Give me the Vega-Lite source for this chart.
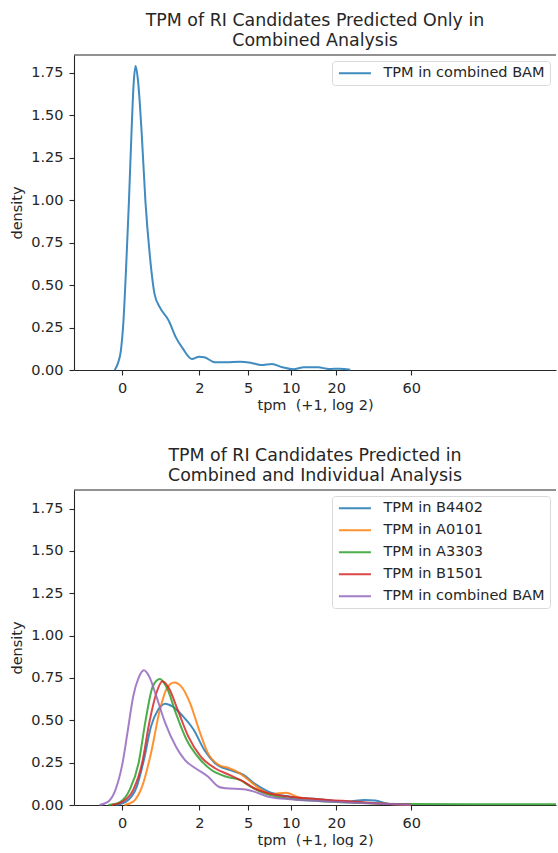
{
  "$schema": "https://vega.github.io/schema/vega-lite/v6.json",
  "padding": {"left": 9, "top": 11, "right": 0, "bottom": 0},
  "spacing": 34,
  "config": {
    "font": "DejaVu Sans",
    "view": {"stroke": null},
    "axis": {
      "domainColor": "#262626", "tickColor": "#262626", "labelColor": "#262626", "titleColor": "#262626",
      "labelFontSize": 14.5, "titleFontSize": 14.5, "titleFontWeight": "normal",
      "tickSize": 5, "labelPadding": 6, "grid": false, "domainWidth": 1.1, "tickWidth": 1.1
    },
    "axisY": {"titlePadding": 6},
    "axisX": {"titlePadding": 4},
    "title": {"fontSize": 17.4, "fontWeight": "normal", "color": "#262626", "lineHeight": 20.5, "frame": "group", "anchor": "middle", "offset": 5},
    "legend": {"labelFontSize": 14.5, "labelColor": "#262626", "labelFont": "DejaVu Sans", "labelLimit": 400}
  },
  "datasets": {
    "top": [
      {"x": -0.15, "y": 0, "series": "TPM in combined BAM"},
      {"x": -0.077, "y": 0.045, "series": "TPM in combined BAM"},
      {"x": -0.025, "y": 0.11, "series": "TPM in combined BAM"},
      {"x": 0.026, "y": 0.27, "series": "TPM in combined BAM"},
      {"x": 0.084, "y": 0.6, "series": "TPM in combined BAM"},
      {"x": 0.142, "y": 0.99, "series": "TPM in combined BAM"},
      {"x": 0.194, "y": 1.39, "series": "TPM in combined BAM"},
      {"x": 0.24, "y": 1.69, "series": "TPM in combined BAM"},
      {"x": 0.28, "y": 1.79, "series": "TPM in combined BAM"},
      {"x": 0.33, "y": 1.70, "series": "TPM in combined BAM"},
      {"x": 0.405, "y": 1.39, "series": "TPM in combined BAM"},
      {"x": 0.48, "y": 0.996, "series": "TPM in combined BAM"},
      {"x": 0.575, "y": 0.663, "series": "TPM in combined BAM"},
      {"x": 0.668, "y": 0.447, "series": "TPM in combined BAM"},
      {"x": 0.777, "y": 0.369, "series": "TPM in combined BAM"},
      {"x": 0.96, "y": 0.29, "series": "TPM in combined BAM"},
      {"x": 1.105, "y": 0.192, "series": "TPM in combined BAM"},
      {"x": 1.252, "y": 0.124, "series": "TPM in combined BAM"},
      {"x": 1.435, "y": 0.065, "series": "TPM in combined BAM"},
      {"x": 1.58, "y": 0.078, "series": "TPM in combined BAM"},
      {"x": 1.689, "y": 0.075, "series": "TPM in combined BAM"},
      {"x": 1.908, "y": 0.045, "series": "TPM in combined BAM"},
      {"x": 2.127, "y": 0.045, "series": "TPM in combined BAM"},
      {"x": 2.419, "y": 0.049, "series": "TPM in combined BAM"},
      {"x": 2.638, "y": 0.043, "series": "TPM in combined BAM"},
      {"x": 2.857, "y": 0.029, "series": "TPM in combined BAM"},
      {"x": 3.075, "y": 0.035, "series": "TPM in combined BAM"},
      {"x": 3.294, "y": 0.016, "series": "TPM in combined BAM"},
      {"x": 3.513, "y": 0.004, "series": "TPM in combined BAM"},
      {"x": 3.732, "y": 0.016, "series": "TPM in combined BAM"},
      {"x": 4.024, "y": 0.016, "series": "TPM in combined BAM"},
      {"x": 4.243, "y": 0.006, "series": "TPM in combined BAM"},
      {"x": 4.461, "y": 0.008, "series": "TPM in combined BAM"},
      {"x": 4.68, "y": 0.002, "series": "TPM in combined BAM"}
    ],
    "bottom": [
      {"x": -0.134, "y": 0, "series": "TPM in B4402"},
      {"x": 0.084, "y": 0.02, "series": "TPM in B4402"},
      {"x": 0.303, "y": 0.108, "series": "TPM in B4402"},
      {"x": 0.449, "y": 0.266, "series": "TPM in B4402"},
      {"x": 0.595, "y": 0.463, "series": "TPM in B4402"},
      {"x": 0.741, "y": 0.562, "series": "TPM in B4402"},
      {"x": 0.888, "y": 0.598, "series": "TPM in B4402"},
      {"x": 1.033, "y": 0.582, "series": "TPM in B4402"},
      {"x": 1.252, "y": 0.523, "series": "TPM in B4402"},
      {"x": 1.47, "y": 0.444, "series": "TPM in B4402"},
      {"x": 1.689, "y": 0.325, "series": "TPM in B4402"},
      {"x": 1.908, "y": 0.247, "series": "TPM in B4402"},
      {"x": 2.2, "y": 0.207, "series": "TPM in B4402"},
      {"x": 2.492, "y": 0.178, "series": "TPM in B4402"},
      {"x": 2.711, "y": 0.128, "series": "TPM in B4402"},
      {"x": 3.003, "y": 0.079, "series": "TPM in B4402"},
      {"x": 3.44, "y": 0.049, "series": "TPM in B4402"},
      {"x": 4.024, "y": 0.034, "series": "TPM in B4402"},
      {"x": 4.608, "y": 0.02, "series": "TPM in B4402"},
      {"x": 4.972, "y": 0.03, "series": "TPM in B4402"},
      {"x": 5.191, "y": 0.026, "series": "TPM in B4402"},
      {"x": 5.484, "y": 0.006, "series": "TPM in B4402"},
      {"x": 5.922, "y": 0.002, "series": "TPM in B4402"},
      {"x": 0.048, "y": 0, "series": "TPM in A0101"},
      {"x": 0.23, "y": 0.02, "series": "TPM in A0101"},
      {"x": 0.412, "y": 0.108, "series": "TPM in A0101"},
      {"x": 0.595, "y": 0.306, "series": "TPM in A0101"},
      {"x": 0.777, "y": 0.562, "series": "TPM in A0101"},
      {"x": 0.923, "y": 0.69, "series": "TPM in A0101"},
      {"x": 1.069, "y": 0.724, "series": "TPM in A0101"},
      {"x": 1.215, "y": 0.7, "series": "TPM in A0101"},
      {"x": 1.398, "y": 0.6, "series": "TPM in A0101"},
      {"x": 1.58, "y": 0.444, "series": "TPM in A0101"},
      {"x": 1.763, "y": 0.306, "series": "TPM in A0101"},
      {"x": 1.981, "y": 0.237, "series": "TPM in A0101"},
      {"x": 2.2, "y": 0.217, "series": "TPM in A0101"},
      {"x": 2.419, "y": 0.187, "series": "TPM in A0101"},
      {"x": 2.638, "y": 0.138, "series": "TPM in A0101"},
      {"x": 2.857, "y": 0.089, "series": "TPM in A0101"},
      {"x": 3.075, "y": 0.065, "series": "TPM in A0101"},
      {"x": 3.368, "y": 0.073, "series": "TPM in A0101"},
      {"x": 3.586, "y": 0.049, "series": "TPM in A0101"},
      {"x": 4.024, "y": 0.03, "series": "TPM in A0101"},
      {"x": 4.754, "y": 0.016, "series": "TPM in A0101"},
      {"x": 5.484, "y": 0.006, "series": "TPM in A0101"},
      {"x": 5.922, "y": 0.002, "series": "TPM in A0101"},
      {"x": -0.281, "y": 0, "series": "TPM in A3303"},
      {"x": -0.062, "y": 0.014, "series": "TPM in A3303"},
      {"x": 0.157, "y": 0.089, "series": "TPM in A3303"},
      {"x": 0.34, "y": 0.247, "series": "TPM in A3303"},
      {"x": 0.486, "y": 0.503, "series": "TPM in A3303"},
      {"x": 0.631, "y": 0.7, "series": "TPM in A3303"},
      {"x": 0.777, "y": 0.744, "series": "TPM in A3303"},
      {"x": 0.923, "y": 0.69, "series": "TPM in A3303"},
      {"x": 1.105, "y": 0.542, "series": "TPM in A3303"},
      {"x": 1.325, "y": 0.385, "series": "TPM in A3303"},
      {"x": 1.58, "y": 0.276, "series": "TPM in A3303"},
      {"x": 1.835, "y": 0.207, "series": "TPM in A3303"},
      {"x": 2.127, "y": 0.168, "series": "TPM in A3303"},
      {"x": 2.419, "y": 0.148, "series": "TPM in A3303"},
      {"x": 2.638, "y": 0.108, "series": "TPM in A3303"},
      {"x": 2.93, "y": 0.069, "series": "TPM in A3303"},
      {"x": 3.294, "y": 0.043, "series": "TPM in A3303"},
      {"x": 4.024, "y": 0.024, "series": "TPM in A3303"},
      {"x": 4.754, "y": 0.014, "series": "TPM in A3303"},
      {"x": 5.922, "y": 0.006, "series": "TPM in A3303"},
      {"x": 7.4, "y": 0.005, "series": "TPM in A3303"},
      {"x": 8.9, "y": 0.005, "series": "TPM in A3303"},
      {"x": -0.208, "y": 0, "series": "TPM in B1501"},
      {"x": 0.011, "y": 0.02, "series": "TPM in B1501"},
      {"x": 0.23, "y": 0.089, "series": "TPM in B1501"},
      {"x": 0.412, "y": 0.247, "series": "TPM in B1501"},
      {"x": 0.558, "y": 0.483, "series": "TPM in B1501"},
      {"x": 0.705, "y": 0.661, "series": "TPM in B1501"},
      {"x": 0.829, "y": 0.73, "series": "TPM in B1501"},
      {"x": 0.96, "y": 0.69, "series": "TPM in B1501"},
      {"x": 1.142, "y": 0.562, "series": "TPM in B1501"},
      {"x": 1.361, "y": 0.404, "series": "TPM in B1501"},
      {"x": 1.616, "y": 0.286, "series": "TPM in B1501"},
      {"x": 1.908, "y": 0.217, "series": "TPM in B1501"},
      {"x": 2.2, "y": 0.178, "series": "TPM in B1501"},
      {"x": 2.492, "y": 0.138, "series": "TPM in B1501"},
      {"x": 2.711, "y": 0.099, "series": "TPM in B1501"},
      {"x": 3.003, "y": 0.069, "series": "TPM in B1501"},
      {"x": 3.44, "y": 0.049, "series": "TPM in B1501"},
      {"x": 4.024, "y": 0.034, "series": "TPM in B1501"},
      {"x": 4.754, "y": 0.02, "series": "TPM in B1501"},
      {"x": 5.484, "y": 0.006, "series": "TPM in B1501"},
      {"x": 5.922, "y": 0.002, "series": "TPM in B1501"},
      {"x": -0.463, "y": 0, "series": "TPM in combined BAM"},
      {"x": -0.281, "y": 0.02, "series": "TPM in combined BAM"},
      {"x": -0.134, "y": 0.089, "series": "TPM in combined BAM"},
      {"x": 0.011, "y": 0.247, "series": "TPM in combined BAM"},
      {"x": 0.121, "y": 0.444, "series": "TPM in combined BAM"},
      {"x": 0.23, "y": 0.641, "series": "TPM in combined BAM"},
      {"x": 0.34, "y": 0.75, "series": "TPM in combined BAM"},
      {"x": 0.449, "y": 0.795, "series": "TPM in combined BAM"},
      {"x": 0.558, "y": 0.759, "series": "TPM in combined BAM"},
      {"x": 0.705, "y": 0.641, "series": "TPM in combined BAM"},
      {"x": 0.888, "y": 0.483, "series": "TPM in combined BAM"},
      {"x": 1.105, "y": 0.345, "series": "TPM in combined BAM"},
      {"x": 1.288, "y": 0.266, "series": "TPM in combined BAM"},
      {"x": 1.507, "y": 0.217, "series": "TPM in combined BAM"},
      {"x": 1.763, "y": 0.168, "series": "TPM in combined BAM"},
      {"x": 1.981, "y": 0.108, "series": "TPM in combined BAM"},
      {"x": 2.127, "y": 0.099, "series": "TPM in combined BAM"},
      {"x": 2.492, "y": 0.093, "series": "TPM in combined BAM"},
      {"x": 2.711, "y": 0.079, "series": "TPM in combined BAM"},
      {"x": 3.003, "y": 0.049, "series": "TPM in combined BAM"},
      {"x": 3.44, "y": 0.034, "series": "TPM in combined BAM"},
      {"x": 4.024, "y": 0.024, "series": "TPM in combined BAM"},
      {"x": 4.754, "y": 0.014, "series": "TPM in combined BAM"},
      {"x": 5.484, "y": 0.006, "series": "TPM in combined BAM"},
      {"x": 5.922, "y": 0.002, "series": "TPM in combined BAM"}
    ],
    "frame": [{"edge": "top"}]
  },
  "resolve": {
    "scale": {"x": "independent", "y": "independent", "color": "independent"},
    "legend": {"color": "independent"}
  },
  "vconcat": [
    {
      "width": 482, "height": 315,
      "title": {"text": ["TPM of RI Candidates Predicted Only in", "Combined Analysis"]},
      "layer": [
        {
          "data": {"name": "top"},
          "mark": {"type": "line", "strokeWidth": 2, "interpolate": "monotone", "opacity": 0.85},
          "encoding": {
            "x": {"field": "x", "type": "quantitative", "scale": {"domain": [-0.984, 8.9], "nice": false, "zero": false},
              "axis": {"values": [0, 1.58496, 2.58496, 3.45943, 4.39232, 5.93074], "labelExpr": "format(round(pow(2, datum.value) - 1), 'd')", "title": "tpm\u00a0 (+1, log 2)"}},
            "y": {"field": "y", "type": "quantitative", "scale": {"domain": [0, 1.855], "nice": false},
              "axis": {"values": [0, 0.25, 0.5, 0.75, 1, 1.25, 1.5, 1.75], "format": ".2f", "title": "density"}},
            "color": {"field": "series", "type": "nominal",
              "scale": {"domain": ["TPM in combined BAM"], "range": ["#1f77b4"]},
              "legend": {"orient": "top-right", "offset": 6, "title": null, "symbolType": "M-1,0L5,0", "symbolSize": 114, "symbolStrokeWidth": 2, "labelOffset": 32, "padding": 5, "strokeColor": "#d9d9d9", "cornerRadius": 3, "fillColor": "white", "rowPadding": 7, "labelLimit": 400}}
          }
        },
        {
          "data": {"name": "frame"},
          "mark": {"type": "rule", "color": "#262626", "strokeWidth": 1.1},
          "encoding": {"y": {"datum": 1.855}}
        }
      ]
    },
    {
      "width": 482, "height": 315,
      "title": {"text": ["TPM of RI Candidates Predicted in", "Combined and Individual Analysis"]},
      "layer": [
        {
          "data": {"name": "bottom"},
          "mark": {"type": "line", "strokeWidth": 2, "interpolate": "monotone", "opacity": 0.85},
          "encoding": {
            "x": {"field": "x", "type": "quantitative", "scale": {"domain": [-0.984, 8.9], "nice": false, "zero": false},
              "axis": {"values": [0, 1.58496, 2.58496, 3.45943, 4.39232, 5.93074], "labelExpr": "format(round(pow(2, datum.value) - 1), 'd')", "title": "tpm\u00a0 (+1, log 2)"}},
            "y": {"field": "y", "type": "quantitative", "scale": {"domain": [0, 1.86], "nice": false},
              "axis": {"values": [0, 0.25, 0.5, 0.75, 1, 1.25, 1.5, 1.75], "format": ".2f", "title": "density"}},
            "color": {"field": "series", "type": "nominal",
              "scale": {"domain": ["TPM in B4402", "TPM in A0101", "TPM in A3303", "TPM in B1501", "TPM in combined BAM"], "range": ["#1f77b4", "#ff7f0e", "#2ca02c", "#d62728", "#9467bd"]},
              "legend": {"orient": "top-right", "offset": 6, "title": null, "symbolType": "M-1,0L5,0", "symbolSize": 114, "symbolStrokeWidth": 2, "labelOffset": 32, "padding": 5, "strokeColor": "#d9d9d9", "cornerRadius": 3, "fillColor": "white", "rowPadding": 7, "labelLimit": 400}}
          }
        },
        {
          "data": {"name": "frame"},
          "mark": {"type": "rule", "color": "#262626", "strokeWidth": 1.1},
          "encoding": {"y": {"datum": 1.86}}
        }
      ]
    }
  ]
}
